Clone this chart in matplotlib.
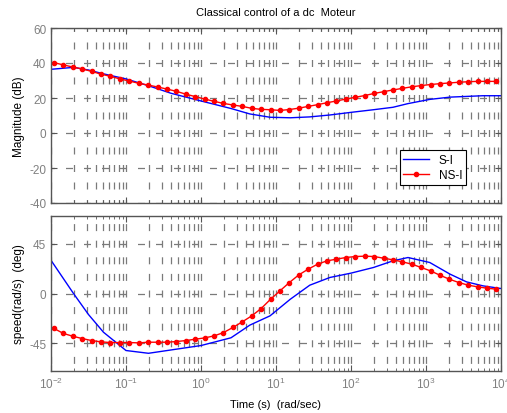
import matplotlib

matplotlib.use("Agg")

import matplotlib.pyplot as plt
import numpy as np

plt.rcParams["font.family"] = ["Liberation Sans", "DejaVu Sans"]
plt.rcParams["mathtext.fontset"] = "custom"
plt.rcParams["mathtext.rm"] = "Liberation Sans"
plt.rcParams["mathtext.it"] = "Liberation Sans"
plt.rcParams["axes.unicode_minus"] = False
plt.rcParams["lines.scale_dashes"] = False

# frequency grid of the NS-I curve (48 samples, log10 exponents)
ns_exp = np.linspace(-1.96, 3.94, 48)
ns_mag = [40.2, 38.9, 37.7, 36.6, 35.2, 33.6, 32.4, 30.9, 29.7, 28.4,
          27.4, 26.3, 25.1, 23.8, 22.2, 20.8, 19.4, 18.1, 16.9, 16.0,
          15.2, 14.1, 13.5, 13.3, 12.9, 13.4, 14.2, 15.2, 16.2, 17.3,
          18.3, 19.4, 20.4, 21.4, 22.6, 23.6, 24.6, 25.5, 26.4, 27.1,
          27.7, 28.2, 28.6, 29.0, 29.3, 29.5, 29.5, 29.5]
ns_phase = [-31.6, -36.1, -38.6, -40.7, -42.5, -43.7, -44.3, -44.3, -44.3, -44.6,
            -44.0, -44.0, -44.0, -43.4, -42.5, -41.3, -40.1, -38.3, -35.3, -30.7,
            -25.6, -20.2, -13.6, -5.2, 2.4, 9.9, 16.8, 22.0, 26.5, 29.5,
            31.0, 32.5, 33.4, 33.7, 33.4, 31.9, 30.4, 28.6, 26.5, 23.5,
            20.4, 16.5, 12.9, 9.9, 7.5, 6.0, 4.8, 3.9]

# S-I curve, read at its own frequencies (log10 exponents)
s_exp = [-2.0, -1.7, -1.5, -1.3, -1.0, -0.7, -0.4, 0.0, 0.4, 0.65, 0.92,
         1.19, 1.45, 1.72, 2.0, 2.3, 2.56, 2.76, 3.05, 3.32, 3.54, 3.76, 4.0]
s_mag = [36.4, 37.5, 36.0, 33.8, 30.9, 27.0, 22.7, 18.3, 14.0, 10.9, 9.0,
         8.7, 9.2, 10.3, 11.8, 13.3, 14.7, 16.8, 19.2, 20.5, 20.9, 21.3, 21.3]
s_phase = [30.0, 0.0, -19.0, -35.0, -51.5, -54.0, -51.0, -47.0, -40.0, -28.6, -20.2,
           -5.2, 7.5, 14.5, 18.4, 23.5, 29.5, 32.5, 28.0, 17.5, 10.5, 6.9, 4.5]

mag_ticks = [-40, -20, 0, 20, 40, 60]
phase_ticks = [-45, 0, 45]

BLUE = "#0000FF"
RED = "#FF0000"
GRID = "#7a7a7a"
FRAME = "#555555"
TICKTXT = "#808080"

PX = 72.0 / 100.0  # points per pixel


def style_axis(ax, v_offset_px, v_period_px):
    ax.set_xscale("log")
    ax.set_xlim(1e-2, 1e4)
    for s in ax.spines.values():
        s.set_color(FRAME)
        s.set_linewidth(1.0)
    ax.tick_params(which="both", direction="in", colors=FRAME, labelcolor=TICKTXT,
                   labelsize=8.5, top=True, right=True)
    ax.tick_params(which="major", length=4)
    ax.tick_params(which="minor", length=2)
    on = 7 * PX
    ax.grid(True, axis="x", which="both", color=GRID, linewidth=0.9,
            linestyle=(v_offset_px * PX, (on, (v_period_px - 7) * PX)))
    ax.grid(True, axis="y", which="major", color=GRID, linewidth=0.9,
            linestyle=(3.5 * PX, (on, 11 * PX)))


fig = plt.figure(figsize=(5.07, 4.14), dpi=100)
ax1 = fig.add_axes((51 / 507, 1 - 204 / 414, 450 / 507, 175 / 414))
ax2 = fig.add_axes((51 / 507, 1 - 372 / 414, 450 / 507, 155 / 414))

w_ns = 10.0 ** ns_exp
w_s = 10.0 ** np.array(s_exp)

ax1.plot(w_s, s_mag, color=BLUE, linewidth=1.0, label="S-I")
ax1.plot(w_ns, ns_mag, color=RED, linewidth=1.0, marker="o", markersize=3.0,
         label="NS-I")
ax1.set_ylim(-40, 60)
ax1.set_yticks(mag_ticks)
style_axis(ax1, 3.5, 17.5)
ax1.tick_params(labelbottom=False)
ax1.set_ylabel("Magnitude (dB)", fontsize=8.5, labelpad=3)
ax1.set_title("Classical control of a dc  Moteur", fontsize=8, pad=9)
leg = ax1.legend(loc="lower right", bbox_to_anchor=(0.935, 0.07), fontsize=8.5,
                 fancybox=False, framealpha=1, edgecolor="black",
                 borderpad=0.3, handlelength=2.2, labelspacing=0.3)
leg.get_frame().set_linewidth(0.8)

ax2.plot(w_s, s_phase, color=BLUE, linewidth=1.0)
ax2.plot(w_ns, ns_phase, color=RED, linewidth=1.0, marker="o", markersize=3.0)
ax2.set_ylim(-70, 70)
ax2.set_yticks(phase_ticks)
style_axis(ax2, 9.0, 16.6)
ax2.set_ylabel("speed(rad/s)  (deg)", fontsize=8.5, labelpad=3)
ax2.set_xlabel("Time (s)  (rad/sec)", fontsize=8, labelpad=6)

fig.savefig("out.png", dpi=100)
